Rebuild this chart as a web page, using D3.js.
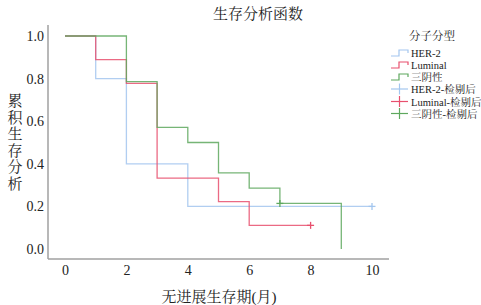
<!DOCTYPE html>
<html><head><meta charset="utf-8">
<script src="https://cdn.jsdelivr.net/npm/d3@7/dist/d3.min.js"></script>
<style>
html,body{margin:0;padding:0;background:#fff;}
text{font-family:"Liberation Serif","Noto Serif CJK SC","Noto Sans CJK SC",serif;fill:#222;}
</style></head>
<body>
<svg id="c" width="481" height="305"></svg>
<script>
const title = "生存分析函数";
const xLabel = "无进展生存期(月)";
const yLabel = "累积生存分析";
const legendTitle = "分子分型";
const xTicks = [0, 2, 4, 6, 8, 10];
const yTicks = [0.0, 0.2, 0.4, 0.6, 0.8, 1.0];
const seriesNames = ["HER-2", "Luminal", "三阴性"];
const censorNames = ["HER-2-检剔后", "Luminal-检剔后", "三阴性-检剔后"];
const colors = ["#a3c6ef", "#e8506e", "#5ea85e"];
// step times and survival values (value holds from time to next time)
const her2Times = [0, 1, 2, 4, 10];
const her2Surv = [1.0, 0.8, 0.4, 0.2, 0.2];
const lumTimes = [0, 1, 2, 3, 5, 6, 8];
const lumSurv = [1.0, 0.889, 0.778, 0.333, 0.222, 0.111, 0.111];
const tnTimes = [0, 2, 3, 4, 5, 6, 7, 9, 9];
const tnSurv = [1.0, 0.786, 0.571, 0.5, 0.357, 0.286, 0.214, 0.214, 0.0];
const her2Censor = [[10, 0.2]];
const lumCensor = [[8, 0.111]];
const tnCensor = [[7, 0.214]];

const svg = d3.select("#c");
const x = d3.scaleLinear().domain([0, 10]).range([65, 372]);
const y = d3.scaleLinear().domain([0, 1]).range([249, 36]);

// axes lines
svg.append("line").attr("x1", 48).attr("x2", 48).attr("y1", 25).attr("y2", 259)
  .attr("stroke", "#a0a0a0").attr("stroke-width", 1.5);
svg.append("line").attr("x1", 48).attr("x2", 389).attr("y1", 259).attr("y2", 259)
  .attr("stroke", "#a0a0a0").attr("stroke-width", 1.5);

const yAxis = d3.axisLeft(y).tickValues(yTicks).tickFormat(d3.format(".1f")).tickSize(0).tickPadding(4);
const ya = svg.append("g").attr("transform", "translate(48,0)").call(yAxis);
ya.select(".domain").remove();
ya.selectAll("text").style("font-size", "14px").attr("fill", "#111");

const xAxis = d3.axisBottom(x).tickValues(xTicks).tickFormat(d3.format("d")).tickSize(0).tickPadding(6);
const xa = svg.append("g").attr("transform", "translate(0,259)").call(xAxis);
xa.select(".domain").remove();
xa.selectAll("text").style("font-size", "14px").attr("fill", "#111");

// title and labels
svg.append("text").attr("x", 258).attr("y", 19).attr("text-anchor", "middle")
  .style("font-size", "15px").attr("fill", "#333").text(title);
svg.append("text").attr("x", 219).attr("y", 302).attr("text-anchor", "middle")
  .style("font-size", "15px").attr("fill", "#333").text(xLabel);
yLabel.split("").forEach((ch, i) => {
  svg.append("text").attr("x", 15).attr("y", 106 + i * 16.6).attr("text-anchor", "middle")
    .style("font-size", "15px").attr("fill", "#333").text(ch);
});

const line = d3.line().x(d => x(d[0])).y(d => y(d[1])).curve(d3.curveStepAfter);
const series = [
  [her2Times, her2Surv, her2Censor],
  [lumTimes, lumSurv, lumCensor],
  [tnTimes, tnSurv, tnCensor]
];
[0, 1, 2].forEach(i => {
  const [t, s, c] = series[i];
  const pts = t.map((tt, k) => [tt, s[k]]);
  svg.append("path").attr("d", line(pts)).attr("fill", "none")
    .attr("stroke", colors[i]).attr("stroke-width", 1.3)
    .attr("stroke-opacity", 0.85);
  c.forEach(p => {
    const cx = x(p[0]), cy = y(p[1]);
    svg.append("line").attr("x1", cx - 3.5).attr("x2", cx + 3.5).attr("y1", cy).attr("y2", cy)
      .attr("stroke", colors[i]).attr("stroke-width", 1.3);
    svg.append("line").attr("x1", cx).attr("x2", cx).attr("y1", cy - 3.5).attr("y2", cy + 3.5)
      .attr("stroke", colors[i]).attr("stroke-width", 1.3);
  });
});

// legend
svg.append("text").attr("x", 432).attr("y", 40).attr("text-anchor", "middle")
  .style("font-size", "11.5px").attr("fill", "#333").text(legendTitle);
const legY = [53, 65, 77, 89, 101.5, 113.5];
const fs = "10.5px";
seriesNames.forEach((n, i) => {
  const cy = legY[i];
  const pts = [[391, cy + 3], [399, cy + 3], [399, cy - 3], [408, cy - 3], [408, cy]];
  svg.append("path").attr("d", d3.line()(pts)).attr("fill", "none")
    .attr("stroke", colors[i]).attr("stroke-width", 1.2);
  svg.append("text").attr("x", 411).attr("y", cy + 4).style("font-size", fs)
    .attr("fill", "#111").text(n);
});
censorNames.forEach((n, i) => {
  const cy = legY[3 + i];
  svg.append("line").attr("x1", 391).attr("x2", 408).attr("y1", cy).attr("y2", cy)
    .attr("stroke", colors[i]).attr("stroke-width", 1.2);
  svg.append("line").attr("x1", 399.5).attr("x2", 399.5).attr("y1", cy - 5.5).attr("y2", cy + 5.5)
    .attr("stroke", colors[i]).attr("stroke-width", 1.2);
  svg.append("text").attr("x", 411).attr("y", cy + 4).style("font-size", fs)
    .attr("fill", "#111").text(n);
});
</script>
</body></html>
